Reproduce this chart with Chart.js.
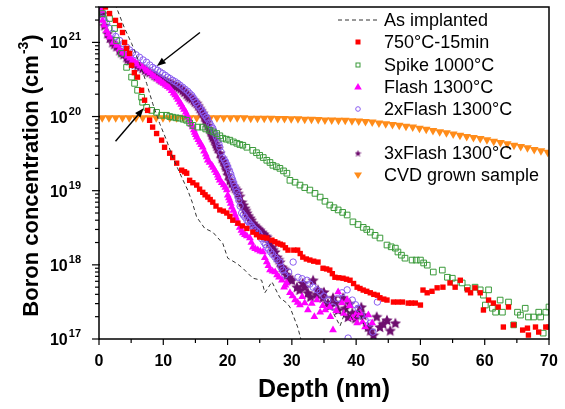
<!DOCTYPE html>
<html>
<head>
<meta charset="utf-8">
<script src="https://cdn.jsdelivr.net/npm/chart.js@4.4.1/dist/chart.umd.min.js"></script>
<style>
  html, body { margin: 0; padding: 0; background: #fff; }
  #wrap { width: 565px; height: 409px; }
</style>
</head>
<body>
<div id="wrap"><canvas id="boronChart" width="565" height="409"></canvas></div>
<script>
// axis ticks
const depthTicks = [0, 10, 20, 30, 40, 50, 60, 70];
const decadeTicks = [17, 18, 19, 20, 21];

const seriesNames = ['As implanted', '750\u00B0C-15min', 'Spike 1000\u00B0C', 'Flash 1300\u00B0C',
                     '2xFlash 1300\u00B0C', '3xFlash 1300\u00B0C', 'CVD grown sample'];

// SIMS profiles: [depth nm, boron cm^-3]
const asImplanted = [
    [2.5, 3.3e21], [3.98, 1.55e21], [5.07, 9.7e20], [6.31, 5.2e20], [7.41, 2.8e20], [8.34, 1.51e20],
    [9.43, 8.1e19], [10.5, 4.8e19], [11.46, 2.83e19], [12.86, 1.52e19], [13.8, 1.02e19], [14.5, 7.0e18],
    [15.2, 4.4e18], [16.45, 3.1e18], [17.7, 2.76e18], [19.25, 1.95e18], [20.03, 1.23e18], [21.4, 1.05e18],
    [22.37, 9.0e17], [23.93, 6.6e17], [25.3, 6.2e17], [25.8, 4.2e17], [26.9, 5.9e17], [28.14, 3.6e17],
    [29.23, 3.05e17], [29.7, 2.7e17], [30.9, 1.45e17], [31.4, 1.0e17], [31.8, 7e16],
    [33.0, null],
    [36.5, 2.2e17], [37.5, 1.5e17], [38.5, 2.6e17], [39.5, 1.8e17], [40.5, 2.4e17], [41.5, 1.3e17]
];

const anneal750 = [
    [1.0, 3.0e21], [1.64, 2.45e21], [2.57, 1.98e21], [3.2, 1.69e21], [3.66, 1.36e21], [3.98, 1.0e21],
    [4.29, 8.3e20], [4.76, 7.1e20], [5.07, 4.9e20], [5.5, 3.9e20], [5.99, 3.4e20], [6.63, 2.26e20],
    [7.09, 1.66e20], [7.56, 1.21e20], [7.87, 8.9e19], [8.34, 7.2e19], [8.96, 5.9e19], [9.74, 4.8e19],
    [10.2, 3.85e19], [10.99, 3.2e19], [11.46, 2.8e19], [12.08, 2.35e19], [12.86, 1.89e19], [13.64, 1.72e19],
    [14.1, 1.38e19], [15.2, 1.19e19], [16.14, 9.5e18], [16.92, 8.2e18], [17.7, 7.0e18], [18.79, 5.5e18],
    [19.88, 5.0e18], [20.81, 4.0e18], [21.6, 3.65e18], [23.0, 3.1e18], [23.93, 2.76e18], [25.0, 2.37e18],
    [26.1, 2.3e18], [26.9, 2.15e18], [27.8, 1.96e18], [28.6, 1.85e18], [29.4, 1.58e18], [30.3, 1.58e18],
    [30.9, 1.58e18], [31.7, 1.27e18], [32.8, 1.16e18], [34.07, 1.09e18], [34.85, 9.0e17], [35.9, 8.5e17],
    [36.7, 6.8e17], [37.96, 6.6e17], [39.05, 6.2e17], [40.15, 5.0e17], [41.1, 4.57e17], [42.2, 4.2e17],
    [43.3, 3.9e17], [43.7, 3.6e17], [44.8, 3.35e17], [45.8, 3.15e17], [47.2, 3.15e17], [48.1, 3.05e17],
    [49.2, 3.05e17], [50.0, 2.87e17], [50.4, 4.57e17], [51.05, 4.2e17], [51.8, 4.4e17], [52.6, 4.9e17],
    [53.5, 5.0e17], [54.6, 5.7e17], [55.4, 5.0e17], [56.2, 6.2e17], [57.3, 4.6e17], [57.8, 4.2e17],
    [58.5, 4.9e17], [59.3, 4.2e17], [59.8, 2.46e17], [60.6, 3.35e17], [61.35, 3.05e17], [62.1, 2.7e17],
    [62.9, 1.45e17], [63.7, 2.7e17], [64.5, 1.55e17], [65.9, 1.32e17], [66.65, 1.4e17], [66.8, 1.13e17],
    [67.9, 1.45e17], [68.4, 1.24e17], [69.5, 1.45e17], [70.0, 1.45e17],
    [13.3, 1.8e19], [14.6, 1.28e19], [15.65, 1.05e19], [16.5, 8.8e18], [17.3, 7.6e18], [18.2, 6.2e18],
    [19.35, 5.3e18], [20.35, 4.5e18], [22.3, 3.35e18], [24.5, 2.55e18], [25.55, 2.35e18], [27.35, 2.05e18],
    [28.2, 1.9e18], [29.0, 1.7e18], [31.3, 1.42e18], [32.25, 1.2e18], [33.4, 1.12e18], [35.4, 8.8e17],
    [36.3, 7.6e17], [37.3, 6.7e17], [38.5, 6.4e17], [39.6, 5.6e17], [40.6, 4.8e17], [41.65, 4.4e17],
    [42.75, 4.0e17], [44.3, 3.45e17], [46.5, 3.15e17], [48.6, 3.05e17]
];

const spike1000 = [
    [0.55, 2.45e21], [1.64, 2.1e21], [2.42, 1.54e21], [2.73, 1.06e21], [3.5, 7.1e20], [4.29, 4.6e20],
    [5.07, 3.4e20], [5.53, 2.8e20], [6.0, 2.26e20], [6.63, 1.82e20], [6.78, 1.56e20], [7.4, 1.33e20],
    [8.19, 1.21e20], [8.96, 1.14e20], [9.74, 1.04e20], [10.5, 1.04e20], [11.46, 9.8e19], [12.55, 9.5e19],
    [13.64, 8.9e19], [14.6, 7.6e19], [15.36, 7.2e19], [16.1, 7.2e19], [17.2, 6.5e19], [18.3, 5.9e19],
    [19.25, 5.1e19], [20.35, 4.8e19], [21.44, 4.36e19], [22.37, 4.1e19], [23.0, 3.85e19], [23.93, 3.5e19],
    [25.0, 3.0e19], [26.1, 2.57e19], [27.05, 2.2e19], [28.14, 2.0e19], [29.23, 1.72e19], [29.7, 1.38e19],
    [31.26, 1.19e19], [32.8, 1.02e19], [34.4, 8.2e18], [35.9, 6.4e18], [37.2, 5.5e18], [38.6, 4.7e18],
    [39.5, 3.8e18], [41.1, 3.2e18], [42.2, 2.76e18], [43.7, 2.3e18], [44.8, 1.85e18], [46.1, 1.68e18],
    [46.5, 1.49e18], [47.6, 1.23e18], [48.7, 1.16e18], [50.0, 1.16e18], [51.06, 9.9e17], [52.0, 8.0e17],
    [53.4, 8.5e17], [54.2, 6.8e17], [54.96, 6.6e17], [55.4, 5.7e17], [56.5, 5.7e17], [57.3, 4.9e17],
    [58.5, 5.0e17], [59.3, 4.6e17], [59.8, 3.9e17], [60.6, 4.6e17], [60.1, 2.87e17], [61.2, 2.6e17],
    [61.7, 2.3e17], [62.4, 3.35e17], [62.75, 2.3e17], [63.7, 3.15e17], [64.5, 1.55e17], [65.1, 2.3e17],
    [65.56, 2.1e17], [66.3, 2.6e17], [66.8, 1.98e17], [67.6, 1.98e17], [68.4, 2.3e17], [68.7, 1.98e17],
    [69.1, 1.2e17], [69.5, 2.3e17], [70.0, 2.7e17],
    [11.0, 1.0e20], [12.0, 9.6e19], [13.1, 9.2e19], [14.1, 8.2e19], [16.6, 6.8e19], [17.75, 6.2e19],
    [18.8, 5.5e19], [19.8, 4.95e19], [20.9, 4.55e19], [21.9, 4.2e19], [24.5, 3.25e19], [25.55, 2.8e19],
    [26.6, 2.4e19], [27.6, 2.1e19], [28.7, 1.85e19], [30.5, 1.3e19], [32.0, 1.1e19], [33.6, 9.2e18],
    [35.15, 7.2e18], [36.55, 5.9e18], [37.9, 5.1e18], [40.3, 3.5e18], [41.65, 3.0e18], [42.95, 2.5e18],
    [45.45, 1.75e18], [47.05, 1.35e18], [49.35, 1.16e18], [50.5, 1.06e18]
];

const flash1300 = [
    [0.1, 3.2e21], [0.39, 2.7e21], [0.55, 1.98e21], [1.17, 1.45e21], [1.64, 1.17e21], [2.73, 9.1e20],
    [3.66, 7.3e20], [4.44, 6.5e20], [5.22, 5.7e20], [6.0, 5.06e20], [6.78, 4.6e20], [7.56, 4.07e20],
    [8.34, 3.6e20], [9.12, 3.18e20], [9.74, 2.9e20], [10.37, 2.64e20], [10.99, 2.4e20], [11.6, 2.06e20],
    [12.08, 1.82e20], [12.55, 1.56e20], [13.02, 1.33e20], [13.5, 1.14e20], [13.8, 9.8e19], [14.27, 8.4e19],
    [14.58, 7.2e19], [14.89, 6.1e19], [15.2, 5.25e19], [15.67, 4.5e19], [16.14, 3.85e19], [16.6, 3.1e19],
    [16.92, 2.57e19], [17.54, 2.2e19], [18.0, 1.89e19], [18.48, 1.62e19], [18.79, 1.38e19], [19.4, 1.19e19],
    [19.88, 1.02e19], [20.03, 8.7e18], [20.35, 7.4e18], [20.66, 6.0e18], [21.13, 4.8e18], [21.44, 4.0e18],
    [21.9, 3.2e18], [22.37, 2.68e18], [23.0, 2.44e18], [23.47, 2.3e18], [23.93, 1.73e18], [24.7, 1.58e18],
    [25.5, 1.49e18], [26.1, 1.09e18], [26.6, 8.5e17], [27.4, 8.0e17], [28.0, 6.8e17], [28.45, 6.2e17],
    [28.8, 5.0e17], [29.2, 5.7e17], [29.7, 4.2e17], [30.5, 3.35e17], [31.26, 2.87e17], [31.6, 3.7e17],
    [32.0, 3.05e17], [32.5, 2.46e17], [33.1, 3.0e17], [33.9, 3.35e17], [34.4, 2.3e17], [35.2, 2.46e17],
    [35.9, 2.7e17], [36.4, 1.32e17], [37.2, 4.3e17], [37.8, 3.05e17], [38.6, 3.35e17], [39.4, 1.92e17],
    [40.15, 1.64e17], [40.6, 2.24e17], [41.4, 1.45e17], [41.9, 2.1e17], [42.5, 1.64e17],
    [0.8, 1.7e21], [1.4, 1.3e21], [2.2, 1.0e21], [3.2, 8.1e20], [4.0, 6.9e20], [4.8, 6.1e20],
    [5.6, 5.4e20], [6.4, 4.8e20], [7.2, 4.3e20], [7.95, 3.85e20], [8.7, 3.4e20], [9.45, 3.05e20],
    [10.05, 2.78e20], [10.7, 2.52e20], [11.3, 2.22e20], [11.85, 1.95e20], [12.3, 1.7e20], [12.8, 1.45e20],
    [13.25, 1.24e20], [13.65, 1.06e20], [14.05, 9.0e19], [14.4, 7.8e19], [14.75, 6.6e19], [15.05, 5.7e19],
    [15.45, 4.85e19], [15.9, 4.15e19], [16.35, 3.4e19], [16.75, 2.85e19], [17.2, 2.4e19], [17.75, 2.05e19],
    [18.25, 1.75e19], [18.6, 1.5e19], [19.1, 1.28e19], [19.65, 1.1e19], [20.2, 8.0e18], [20.5, 6.7e18],
    [20.9, 5.4e18], [21.3, 4.4e18], [21.65, 3.6e18], [22.15, 2.9e18], [22.7, 2.55e18], [23.7, 2.0e18],
    [24.3, 1.65e18], [25.1, 1.52e18], [25.8, 1.25e18], [26.35, 9.7e17], [27.0, 8.2e17], [27.7, 7.3e17],
    [29.0, 5.3e17], [30.1, 3.8e17], [30.9, 3.1e17], [33.5, 2.0e17], [34.8, 2.8e17], [36.0, 2.0e17],
    [36.9, 2.4e17], [38.1, 2.2e17], [39.0, 2.8e17], [39.9, 2.1e17], [41.0, 1.7e17]
];

const flash2x = [
    [0.23, 2.7e21], [0.55, 2.1e21], [1.17, 1.8e21], [2.1, 1.32e21], [3.2, 1.06e21], [4.29, 8.6e20],
    [5.22, 7.3e20], [6.3, 6.3e20], [7.4, 5.4e20], [8.34, 4.6e20], [9.12, 4.2e20], [9.9, 3.8e20],
    [10.68, 3.4e20], [11.46, 3.08e20], [12.24, 2.8e20], [13.02, 2.48e20], [13.8, 2.19e20], [14.42, 1.93e20],
    [14.89, 1.66e20], [15.36, 1.42e20], [15.98, 1.21e20], [16.45, 1.04e20], [16.9, 9.2e19], [17.23, 8.1e19],
    [17.7, 6.95e19], [18.0, 5.9e19], [18.48, 4.8e19], [18.79, 3.85e19], [19.25, 2.8e19], [19.72, 2.4e19],
    [20.03, 2.07e19], [20.5, 1.67e19], [20.81, 1.38e19], [21.1, 1.15e19], [21.44, 9.5e18], [21.75, 7.4e18],
    [22.2, 5.0e18], [22.7, 4.4e18], [23.0, 4.0e18], [23.5, 3.54e18], [23.93, 3.2e18], [24.55, 2.85e18],
    [25.0, 2.52e18], [25.65, 2.02e18], [26.1, 1.73e18], [26.7, 1.49e18], [27.36, 1.27e18], [28.14, 1.09e18],
    [28.3, 9.3e17], [28.6, 8.5e17], [28.9, 7.3e17], [30.2, 1.09e18], [30.95, 6.8e17], [32.35, 6.2e17],
    [33.3, 5.0e17], [34.4, 4.3e17], [35.6, 3.35e17], [36.4, 2.7e17], [37.8, 4.2e17], [38.6, 4.6e17],
    [39.4, 3.35e17], [40.3, 2.6e17], [41.4, 1.8e17], [42.2, 1.64e17], [43.3, 3.15e17], [42.6, 1.24e17],
    [38.75, 1.03e17],
    [0.85, 1.95e21], [1.6, 1.55e21], [2.6, 1.2e21], [3.75, 9.6e20], [4.75, 7.9e20], [5.75, 6.8e20],
    [6.85, 5.8e20], [7.9, 4.95e20], [8.75, 4.4e20], [9.5, 4.0e20], [10.3, 3.6e20], [11.05, 3.25e20],
    [11.85, 2.95e20], [12.6, 2.65e20], [13.4, 2.33e20], [14.1, 2.05e20], [14.65, 1.8e20], [15.1, 1.54e20],
    [15.65, 1.32e20], [16.2, 1.12e20], [16.7, 9.8e19], [17.45, 7.5e19], [17.85, 6.4e19], [18.25, 5.3e19],
    [18.65, 4.3e19], [19.0, 3.3e19], [19.5, 2.6e19], [19.9, 2.2e19], [20.3, 1.85e19], [20.65, 1.5e19],
    [20.95, 1.26e19], [21.3, 1.05e19], [21.6, 8.4e18], [21.95, 6.2e18], [22.45, 4.7e18], [23.25, 3.8e18],
    [23.7, 3.4e18], [24.25, 3.0e18], [24.8, 2.7e18], [25.3, 2.25e18], [25.9, 1.87e18], [26.4, 1.6e18],
    [27.0, 1.38e18], [27.7, 1.18e18], [29.5, 8.0e17], [31.6, 6.5e17], [32.8, 5.5e17], [33.9, 4.6e17],
    [35.0, 3.8e17], [37.1, 3.5e17], [39.9, 2.9e17], [40.8, 2.1e17]
];

const flash3x = [
    [0.23, 2.87e21], [0.55, 2.45e21], [0.86, 1.69e21], [1.33, 1.32e21], [2.1, 1.0e21], [2.73, 8.8e20],
    [3.2, 7.8e20], [3.82, 6.9e20], [4.29, 6.3e20], [4.76, 5.7e20], [5.22, 5.4e20], [6.0, 4.9e20],
    [6.78, 4.47e20], [7.56, 4.07e20], [8.34, 3.8e20], [8.96, 3.48e20], [9.43, 3.27e20], [10.05, 3.08e20],
    [10.52, 2.9e20], [11.15, 2.8e20], [11.77, 2.64e20], [12.4, 2.48e20], [13.02, 2.26e20], [13.64, 2.0e20],
    [14.1, 1.82e20], [14.73, 1.66e20], [15.2, 1.51e20], [15.67, 1.29e20], [16.14, 1.11e20], [16.6, 9.2e19],
    [16.92, 7.6e19], [17.38, 6.3e19], [17.7, 5.25e19], [18.17, 4.36e19], [18.48, 3.73e19], [19.1, 2.74e19],
    [19.57, 2.27e19], [19.88, 1.89e19], [20.35, 1.38e19], [20.97, 1.15e19], [21.44, 1.02e19], [21.9, 8.4e18],
    [22.2, 7.0e18], [22.7, 5.8e18], [23.0, 5.0e18], [23.5, 4.27e18], [23.93, 3.65e18], [24.55, 3.2e18],
    [25.0, 2.94e18], [25.65, 2.6e18], [26.1, 2.37e18], [26.9, 1.73e18], [27.36, 1.49e18], [27.7, 1.27e18],
    [28.14, 1.09e18], [28.45, 9.3e17], [28.9, 8.5e17], [29.2, 7.3e17], [29.7, 6.4e17], [30.0, 6.2e17],
    [30.8, 5.0e17], [31.7, 5.7e17], [32.5, 4.2e17], [33.3, 6.2e17], [34.07, 4.6e17], [34.85, 3.6e17],
    [35.6, 3.05e17], [36.4, 3.6e17], [37.2, 2.46e17], [37.96, 3.6e17], [38.75, 1.98e17], [39.4, 2.24e17],
    [40.3, 2.3e17], [41.1, 2.1e17], [41.9, 1.45e17], [42.7, 1.13e17], [43.7, 1.45e17], [44.8, 1.8e17],
    [46.1, 1.64e17],
    [1.7, 1.15e21], [2.4, 9.4e20], [3.5, 7.3e20], [4.5, 6.0e20], [5.6, 5.1e20], [6.4, 4.7e20],
    [7.2, 4.25e20], [7.9, 3.95e20], [8.65, 3.6e20], [9.7, 3.18e20], [10.3, 3.0e20], [10.85, 2.85e20],
    [11.45, 2.72e20], [12.1, 2.56e20], [12.7, 2.38e20], [13.3, 2.13e20], [13.9, 1.9e20], [14.4, 1.75e20],
    [14.95, 1.58e20], [15.45, 1.4e20], [15.9, 1.2e20], [16.4, 1.0e20], [16.75, 8.4e19], [17.15, 6.9e19],
    [17.55, 5.7e19], [17.95, 4.8e19], [18.3, 4.0e19], [18.8, 3.2e19], [19.35, 2.5e19], [19.7, 2.1e19],
    [20.1, 1.62e19], [20.65, 1.26e19], [21.2, 1.08e19], [21.65, 9.2e18], [22.45, 6.4e18], [22.85, 5.4e18],
    [23.25, 4.6e18], [23.7, 4.0e18], [24.25, 3.4e18], [24.8, 3.05e18], [25.35, 2.75e18], [25.9, 2.45e18],
    [26.5, 2.0e18], [27.1, 1.6e18], [27.95, 1.18e18], [28.7, 8.9e17], [29.5, 6.8e17],
    [31.2, 4.6e17], [32.0, 5.0e17], [32.9, 3.7e17], [33.8, 4.0e17], [35.0, 4.3e17], [35.9, 2.8e17],
    [36.8, 3.1e17], [38.3, 2.6e17], [39.0, 3.0e17], [39.9, 1.9e17], [40.8, 2.7e17], [42.2, 1.3e17],
    [43.2, 2.0e17], [44.2, 1.6e17], [45.3, 1.3e17]
];

const cvdGrown = [
    [0.5, 9.6e19], [1.55, 9.6e19], [2.6, 9.6e19], [3.65, 9.6e19], [4.7, 9.6e19], [5.75, 9.6e19],
    [6.8, 9.6e19], [7.85, 9.6e19], [8.9, 9.6e19], [9.95, 9.6e19], [11.0, 9.6e19], [12.05, 9.6e19],
    [13.1, 9.6e19], [14.15, 9.6e19], [15.2, 9.6e19], [16.25, 9.6e19], [17.3, 9.6e19], [18.35, 9.6e19],
    [19.4, 9.6e19], [20.45, 9.6e19], [21.5, 9.6e19], [22.55, 9.6e19], [23.6, 9.5e19], [24.65, 9.5e19],
    [25.7, 9.5e19], [26.75, 9.5e19], [27.8, 9.4e19], [28.85, 9.4e19], [29.9, 9.3e19], [30.95, 9.3e19],
    [32.0, 9.2e19], [33.05, 9.2e19], [34.1, 9.1e19], [35.15, 9.0e19], [36.2, 9.0e19], [37.25, 8.9e19],
    [38.3, 8.9e19], [39.35, 8.8e19], [40.4, 8.7e19], [41.45, 8.6e19], [42.5, 8.45e19], [43.55, 8.2e19],
    [44.6, 8.0e19], [45.65, 7.8e19], [46.7, 7.6e19], [47.75, 7.4e19], [48.8, 7.2e19], [49.85, 6.95e19],
    [50.9, 6.75e19], [51.95, 6.5e19], [53.0, 6.25e19], [54.05, 6.05e19], [55.1, 5.8e19], [56.15, 5.6e19],
    [57.2, 5.4e19], [58.25, 5.2e19], [59.3, 5.05e19], [60.35, 4.85e19], [61.4, 4.65e19], [62.45, 4.45e19],
    [63.5, 4.3e19], [64.55, 4.1e19], [65.6, 3.95e19], [66.65, 3.8e19], [67.7, 3.6e19], [68.75, 3.45e19],
    [69.8, 3.3e19]
];

// arrows marking the profile crossings: [tailX, tailY, headX, headY]
const arrows = [
    [15.7, 1.36e21, 9.0, 4.8e20],
    [2.57, 4.65e19, 6.94, 1.29e20]
];

const FONT = '"Liberation Sans", Arial, Helvetica, sans-serif';
const colors = ['#333333', '#ff0000', '#3a9a3a', '#ff00ff', '#8a5cf0', '#6e0d6e', '#ff8c1a'];

function toPoints(arr) {
    return arr.map(([x, y]) => ({ x: x, y: y }));
}

function makeStar(size, color) {
    const c = document.createElement('canvas');
    c.width = size;
    c.height = size;
    const g = c.getContext('2d');
    const cx = size / 2, cy = size / 2 + 0.5, ro = size / 2, ri = ro * 0.47;
    g.beginPath();
    for (let i = 0; i < 10; i++) {
        const r = i % 2 ? ri : ro;
        const a = -Math.PI / 2 + i * Math.PI / 5;
        g.lineTo(cx + r * Math.cos(a), cy + r * Math.sin(a));
    }
    g.closePath();
    g.fillStyle = color;
    g.fill();
    return c;
}

const starPlot = makeStar(12, colors[5]);
const starLegend = makeStar(7, colors[5]);

function drawArrow(ctx, x1, y1, x2, y2) {
    const ang = Math.atan2(y2 - y1, x2 - x1);
    const len = 9, half = 3.5;
    const bx = x2 - Math.cos(ang) * len, by = y2 - Math.sin(ang) * len;
    ctx.beginPath();
    ctx.moveTo(x1, y1);
    ctx.lineTo(bx, by);
    ctx.stroke();
    ctx.beginPath();
    ctx.moveTo(x2, y2);
    ctx.lineTo(bx - Math.sin(ang) * half, by + Math.cos(ang) * half);
    ctx.lineTo(bx + Math.sin(ang) * half, by - Math.cos(ang) * half);
    ctx.closePath();
    ctx.fill();
}

// legend markers, one small symbol per series
function legendMarker(ctx, i, x, y) {
    ctx.save();
    ctx.fillStyle = colors[i];
    ctx.strokeStyle = colors[i];
    ctx.lineWidth = 1;
    if (i === 0) {
        ctx.setLineDash([4, 3]);
        ctx.beginPath();
        ctx.moveTo(x - 20, y);
        ctx.lineTo(x + 19, y);
        ctx.stroke();
    } else if (i === 1) {
        ctx.fillRect(x - 2.5, y - 2.5, 5, 5);
    } else if (i === 2) {
        ctx.strokeRect(x - 2, y - 2, 4, 4);
    } else if (i === 3) {
        ctx.beginPath();
        ctx.moveTo(x, y - 4);
        ctx.lineTo(x + 3.8, y + 2.5);
        ctx.lineTo(x - 3.8, y + 2.5);
        ctx.closePath();
        ctx.fill();
    } else if (i === 4) {
        ctx.beginPath();
        ctx.arc(x, y, 2.3, 0, Math.PI * 2);
        ctx.stroke();
    } else if (i === 5) {
        ctx.drawImage(starLegend, x - 3.5, y - 3.5);
    } else {
        ctx.beginPath();
        ctx.moveTo(x, y + 4);
        ctx.lineTo(x + 4, y - 2.5);
        ctx.lineTo(x - 4, y - 2.5);
        ctx.closePath();
        ctx.fill();
    }
    ctx.restore();
}

const legendRows = [20, 42, 65, 87, 109, 153, 175];

const framePlugin = {
    id: 'framePlugin',
    afterDatasetsDraw(chart) {
        const { ctx, chartArea: a, scales: { x, y } } = chart;
        ctx.save();

        // arrows
        ctx.strokeStyle = '#000';
        ctx.fillStyle = '#000';
        ctx.lineWidth = 1.4;
        arrows.forEach(([tx, ty, hx, hy]) => {
            drawArrow(ctx, x.getPixelForValue(tx), y.getPixelForValue(ty),
                      x.getPixelForValue(hx), y.getPixelForValue(hy));
        });

        // frame
        ctx.lineWidth = 1.5;
        ctx.strokeRect(a.left, a.top, a.right - a.left, a.bottom - a.top);

        // x ticks and labels
        ctx.lineWidth = 1.2;
        ctx.font = 'bold 16px ' + FONT;
        ctx.textAlign = 'center';
        ctx.textBaseline = 'alphabetic';
        depthTicks.forEach((v, i) => {
            const px = x.getPixelForValue(v);
            ctx.beginPath();
            ctx.moveTo(px, a.bottom);
            ctx.lineTo(px, a.bottom + 6);
            ctx.stroke();
            ctx.fillText(String(v), px, a.bottom + 27);
            if (i < depthTicks.length - 1) {
                const pm = x.getPixelForValue((v + depthTicks[i + 1]) / 2);
                ctx.beginPath();
                ctx.moveTo(pm, a.bottom);
                ctx.lineTo(pm, a.bottom + 4);
                ctx.stroke();
            }
        });

        // y ticks (decades plus log minors) and labels
        decadeTicks.forEach(d => {
            const base = Math.pow(10, d);
            const py = y.getPixelForValue(base);
            ctx.beginPath();
            ctx.moveTo(a.left - 7, py);
            ctx.lineTo(a.left + 1, py);
            ctx.stroke();
            for (let k = 2; k <= 9; k++) {
                if (k * base > y.max) break;
                const pk = y.getPixelForValue(k * base);
                ctx.beginPath();
                ctx.moveTo(a.left - 4, pk);
                ctx.lineTo(a.left, pk);
                ctx.stroke();
            }
            ctx.textAlign = 'right';
            ctx.font = 'bold 11px ' + FONT;
            const sup = String(d);
            const sw = ctx.measureText(sup).width;
            ctx.fillText(sup, 81, py - 2);
            ctx.font = 'bold 16px ' + FONT;
            ctx.fillText('10', 81 - sw - 1, py + 6);
        });

        // axis titles
        ctx.textAlign = 'center';
        ctx.font = 'bold 25px ' + FONT;
        ctx.fillText('Depth (nm)', (a.left + a.right) / 2, 397);

        ctx.save();
        ctx.translate(30, 176);
        ctx.rotate(-Math.PI / 2);
        ctx.textAlign = 'left';
        const mainTxt = 'Boron concentration (cm', supTxt = '-3', endTxt = ')';
        ctx.font = 'bold 22px ' + FONT;
        const w1 = ctx.measureText(mainTxt).width, w3 = ctx.measureText(endTxt).width;
        ctx.font = 'bold 14px ' + FONT;
        const w2 = ctx.measureText(supTxt).width;
        const start = -(w1 + w2 + w3) / 2;
        ctx.font = 'bold 22px ' + FONT;
        ctx.fillText(mainTxt, start, 8);
        ctx.fillText(endTxt, start + w1 + w2 + 1, 8);
        ctx.font = 'bold 14px ' + FONT;
        ctx.fillText(supTxt, start + w1 + 1, -2);
        ctx.restore();

        // legend
        ctx.font = '18px ' + FONT;
        ctx.textAlign = 'left';
        ctx.textBaseline = 'middle';
        seriesNames.forEach((name, i) => {
            legendMarker(ctx, i, 358, legendRows[i]);
            ctx.fillStyle = '#000';
            ctx.fillText(name, 384, legendRows[i] + 1);
        });

        ctx.restore();
    }
};

const ctx = document.getElementById('boronChart').getContext('2d');
const boronChart = new Chart(ctx, {
    type: 'scatter',
    data: {
        datasets: [
            {
                label: seriesNames[0],
                data: toPoints(asImplanted),
                showLine: true,
                borderColor: colors[0],
                borderWidth: 1,
                borderDash: [4, 3],
                pointRadius: 0,
                spanGaps: false,
                clip: 0
            },
            {
                label: seriesNames[1],
                data: toPoints(anneal750),
                pointStyle: 'rect',
                pointRadius: 3.8,
                backgroundColor: colors[1],
                borderWidth: 0,
                clip: 0
            },
            {
                label: seriesNames[2],
                data: toPoints(spike1000),
                pointStyle: 'rect',
                pointRadius: 4,
                backgroundColor: 'rgba(255,255,255,0)',
                borderColor: colors[2],
                borderWidth: 1,
                clip: 0
            },
            {
                label: seriesNames[3],
                data: toPoints(flash1300),
                pointStyle: 'triangle',
                pointRadius: 4.5,
                backgroundColor: colors[3],
                borderWidth: 0,
                clip: 0
            },
            {
                label: seriesNames[4],
                data: toPoints(flash2x),
                pointStyle: 'circle',
                pointRadius: 3.2,
                backgroundColor: 'rgba(255,255,255,0)',
                borderColor: colors[4],
                borderWidth: 1,
                clip: 0
            },
            {
                label: seriesNames[5],
                data: toPoints(flash3x),
                pointStyle: starPlot,
                pointRadius: 6,
                clip: 0
            },
            {
                label: seriesNames[6],
                data: toPoints(cvdGrown),
                pointStyle: 'triangle',
                rotation: 180,
                pointRadius: 5,
                backgroundColor: colors[6],
                borderWidth: 0,
                clip: 0
            }
        ]
    },
    options: {
        responsive: false,
        animation: false,
        devicePixelRatio: 1,
        events: [],
        layout: {
            padding: { left: 0, top: 7, right: 16, bottom: 0 }
        },
        plugins: {
            legend: { display: false },
            tooltip: { enabled: false }
        },
        scales: {
            x: {
                type: 'linear',
                min: 0,
                max: 70,
                grid: { display: false },
                border: { display: false },
                ticks: { display: false },
                afterFit: scale => { scale.height = 70; }
            },
            y: {
                type: 'logarithmic',
                min: 1e17,
                max: 3e21,
                grid: { display: false },
                border: { display: false },
                ticks: { display: false },
                afterFit: scale => { scale.width = 99; }
            }
        }
    },
    plugins: [framePlugin]
});
</script>
</body>
</html>
